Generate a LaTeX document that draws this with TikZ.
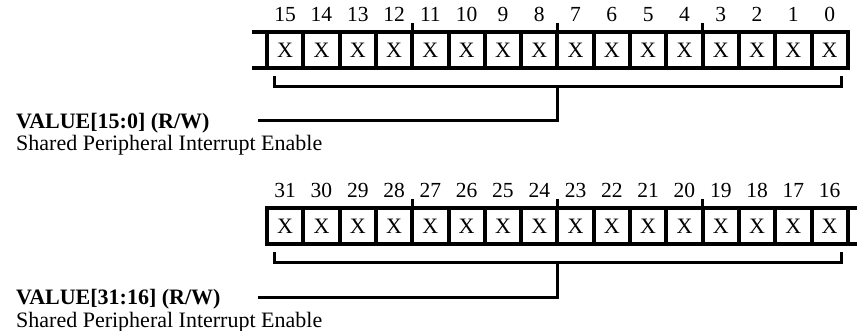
\documentclass[tikz,border=0pt]{standalone}
\usepackage{fontspec}
\setmainfont{Liberation Serif}
\begin{document}
\begin{tikzpicture}[x=1pt,y=-1pt,
  cell/.style={draw, line width=4pt, minimum width=36.3pt, minimum height=36pt,
    inner sep=0pt, outer sep=0pt, font=\fontsize{22}{22}\selectfont},
  num/.style={inner sep=0pt, anchor=base, font=\fontsize{21.5}{22}\selectfont},
  regline/.style={line width=4pt},
  brk/.style={line width=3pt, line join=miter},
  tick/.style={line width=3pt},
  lbl/.style={anchor=base west, inner sep=0pt, font=\fontsize{22}{26}\selectfont},
  lblb/.style={lbl, font=\fontsize{22}{26}\selectfont\bfseries}]
\useasboundingbox (0,0) rectangle (857,331);
% ---------- register bits 15..0 ----------
\foreach \k in {0,...,15} {
  \pgfmathtruncatemacro\b{15-\k}
  \node[cell] (t\k) at ({267+36.3*(\k+0.5)},50) {X};
  \node[num] (tn\k) at ({267+36.3*(\k+0.5)},22) {\b};
}
\coordinate (tsl1) at (252,32);
\coordinate (tsl2) at (252,68);
\draw[regline] (t0.north west) -- (tsl1);
\draw[regline] (t0.south west) -- (tsl2);
\foreach \k in {4,8,12} { \draw[tick] (t\k.north west) -- ++(0,-9); }
\coordinate (tba) at ([xshift=7pt,yshift=-8pt]t0.south west);
\coordinate (tbb) at ([xshift=-6pt,yshift=-8pt]t15.south east);
\coordinate (tbc) at ([yshift=-19pt]t8.south west);
\coordinate (tlab) at (258,121);
\draw[brk] (tba) -- ++(0,11) -| (tbb);
\draw[brk] (tbc) |- (tlab);
\node[lblb] (tv) at (16,129) {VALUE[15:0] (R/W)};
\node[lbl] (td) at (16,151) {Shared Peripheral Interrupt Enable};
% ---------- register bits 31..16 ----------
\foreach \k in {0,...,15} {
  \pgfmathtruncatemacro\b{31-\k}
  \node[cell] (b\k) at ({267+36.3*(\k+0.5)},226) {X};
  \node[num] (bn\k) at ({267+36.3*(\k+0.5)},198) {\b};
}
\coordinate (bsr1) at (857,208);
\coordinate (bsr2) at (857,244);
\draw[regline] (b15.north east) -- (bsr1);
\draw[regline] (b15.south east) -- (bsr2);
\foreach \k in {4,8,12} { \draw[tick] (b\k.north west) -- ++(0,-9); }
\coordinate (bba) at ([xshift=7pt,yshift=-8pt]b0.south west);
\coordinate (bbb) at ([xshift=-6pt,yshift=-8pt]b15.south east);
\coordinate (bbc) at ([yshift=-19pt]b8.south west);
\coordinate (blab) at (258,297);
\draw[brk] (bba) -- ++(0,11) -| (bbb);
\draw[brk] (bbc) |- (blab);
\node[lblb] (bv) at (16,305) {VALUE[31:16] (R/W)};
\node[lbl] (bd) at (16,327) {Shared Peripheral Interrupt Enable};
\end{tikzpicture}
\end{document}
